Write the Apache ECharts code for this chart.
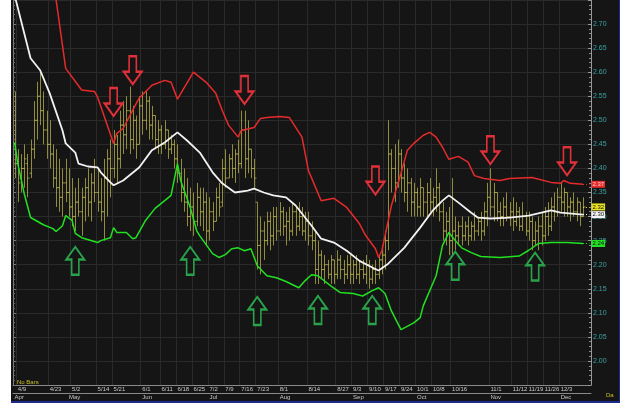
<!DOCTYPE html>
<html>
<head>
<meta charset="utf-8">
<script src="https://cdn.jsdelivr.net/npm/echarts@6/dist/echarts.min.js"></script>
<style>
	html, body { margin: 0; padding: 0; background: #fff; }
	#panel {
		position: absolute; left: 11px; top: 0; width: 608px; height: 401px;
		background: #151515; border-right: 1px solid #1c2a8c; border-bottom: 2px solid #1c2a8c;
	}
	#chart { position: absolute; left: 0; top: 0; width: 629px; height: 403px; }
</style>
</head>
<body>
<div id="panel"></div>
<div id="chart"></div>
<script>
"use strict";

// trading days, weekdays from 4/6
const firstDay = new Date(2018, 3, 6);
const dayCount = 181;

const dateTicks = ["4/9", "4/23", "5/2", "5/14", "5/21", "6/1", "6/11", "6/18", "6/25", "7/2",
	"7/9", "7/16", "7/23", "8/1", "8/14", "8/27", "9/3", "9/10", "9/17", "9/24", "10/1", "10/8",
	"10/16", "11/1", "11/12", "11/19", "11/26", "12/3"];
const monthStarts = ["4/6", "5/1", "6/1", "7/2", "8/1", "9/3", "10/1", "11/1", "12/3"];
const monthNames = ["Apr", "May", "Jun", "Jul", "Aug", "Sep", "Oct", "Nov", "Dec"];

// daily bars: open, high, low, close
const bars = [
	[2.44, 2.56, 2.38, 2.41], [2.41, 2.44, 2.33, 2.37], [2.38, 2.43, 2.35, 2.40], [2.40, 2.45, 2.36, 2.42],
	[2.41, 2.43, 2.34, 2.38], [2.39, 2.46, 2.38, 2.44], [2.44, 2.54, 2.42, 2.50], [2.50, 2.58, 2.46, 2.55],
	[2.55, 2.60, 2.49, 2.52], [2.52, 2.56, 2.45, 2.48], [2.48, 2.52, 2.42, 2.45], [2.45, 2.50, 2.40, 2.43],
	[2.43, 2.45, 2.36, 2.38], [2.38, 2.44, 2.32, 2.36], [2.36, 2.42, 2.31, 2.34], [2.34, 2.40, 2.30, 2.37],
	[2.37, 2.42, 2.33, 2.35], [2.35, 2.40, 2.30, 2.32], [2.32, 2.38, 2.28, 2.30], [2.30, 2.36, 2.27, 2.33],
	[2.33, 2.38, 2.30, 2.31], [2.31, 2.36, 2.26, 2.34], [2.34, 2.38, 2.29, 2.36], [2.36, 2.40, 2.30, 2.33],
	[2.33, 2.39, 2.29, 2.37], [2.37, 2.42, 2.33, 2.35], [2.35, 2.40, 2.31, 2.33], [2.33, 2.38, 2.29, 2.31],
	[2.31, 2.42, 2.25, 2.38], [2.38, 2.44, 2.30, 2.42], [2.42, 2.46, 2.34, 2.40], [2.40, 2.48, 2.38, 2.45],
	[2.45, 2.47, 2.37, 2.42], [2.42, 2.52, 2.40, 2.49], [2.49, 2.54, 2.43, 2.47], [2.47, 2.55, 2.44, 2.52],
	[2.52, 2.57, 2.43, 2.46], [2.46, 2.53, 2.44, 2.50], [2.50, 2.51, 2.42, 2.45], [2.45, 2.55, 2.45, 2.53],
	[2.53, 2.56, 2.47, 2.50], [2.50, 2.56, 2.48, 2.54], [2.54, 2.55, 2.46, 2.49], [2.49, 2.53, 2.46, 2.51],
	[2.51, 2.51, 2.44, 2.46], [2.46, 2.50, 2.43, 2.48], [2.48, 2.49, 2.43, 2.45], [2.45, 2.50, 2.44, 2.48],
	[2.48, 2.48, 2.42, 2.44], [2.44, 2.47, 2.43, 2.45], [2.45, 2.46, 2.40, 2.42], [2.42, 2.45, 2.37, 2.39],
	[2.39, 2.42, 2.33, 2.35], [2.35, 2.40, 2.31, 2.33], [2.33, 2.38, 2.28, 2.30], [2.30, 2.36, 2.27, 2.32],
	[2.32, 2.35, 2.26, 2.29], [2.29, 2.37, 2.28, 2.34], [2.34, 2.36, 2.28, 2.31], [2.31, 2.36, 2.27, 2.33],
	[2.33, 2.35, 2.24, 2.27], [2.27, 2.34, 2.25, 2.31], [2.31, 2.33, 2.27, 2.29], [2.29, 2.36, 2.29, 2.34],
	[2.34, 2.37, 2.30, 2.32], [2.33, 2.42, 2.32, 2.40], [2.40, 2.44, 2.36, 2.38], [2.38, 2.43, 2.38, 2.42],
	[2.42, 2.45, 2.38, 2.40], [2.40, 2.44, 2.37, 2.43], [2.43, 2.46, 2.39, 2.41], [2.41, 2.52, 2.40, 2.48],
	[2.48, 2.52, 2.38, 2.42], [2.42, 2.50, 2.39, 2.44], [2.44, 2.44, 2.38, 2.40], [2.40, 2.42, 2.36, 2.38],
	[2.33, 2.33, 2.19, 2.24], [2.24, 2.30, 2.18, 2.27], [2.27, 2.29, 2.21, 2.25], [2.25, 2.31, 2.24, 2.29],
	[2.29, 2.31, 2.23, 2.26], [2.26, 2.32, 2.24, 2.30], [2.30, 2.32, 2.25, 2.27], [2.27, 2.33, 2.26, 2.31],
	[2.31, 2.32, 2.26, 2.28], [2.28, 2.31, 2.24, 2.29], [2.29, 2.32, 2.25, 2.27], [2.27, 2.33, 2.26, 2.31],
	[2.31, 2.32, 2.26, 2.28], [2.28, 2.33, 2.27, 2.30], [2.30, 2.32, 2.26, 2.27], [2.27, 2.31, 2.25, 2.29],
	[2.29, 2.31, 2.24, 2.26], [2.26, 2.29, 2.23, 2.25], [2.25, 2.27, 2.16, 2.19], [2.19, 2.25, 2.16, 2.22],
	[2.22, 2.23, 2.17, 2.19], [2.19, 2.22, 2.16, 2.20], [2.20, 2.21, 2.17, 2.18], [2.18, 2.22, 2.16, 2.21],
	[2.21, 2.21, 2.16, 2.18], [2.18, 2.23, 2.17, 2.21], [2.21, 2.22, 2.17, 2.19], [2.19, 2.21, 2.16, 2.18],
	[2.18, 2.22, 2.17, 2.20], [2.20, 2.22, 2.16, 2.18], [2.18, 2.21, 2.16, 2.20], [2.20, 2.22, 2.17, 2.18],
	[2.18, 2.21, 2.16, 2.19], [2.19, 2.21, 2.17, 2.18], [2.18, 2.22, 2.16, 2.20], [2.20, 2.21, 2.15, 2.17],
	[2.17, 2.20, 2.16, 2.19], [2.19, 2.21, 2.16, 2.18], [2.18, 2.22, 2.17, 2.21], [2.21, 2.24, 2.18, 2.22],
	[2.22, 2.27, 2.19, 2.25], [2.25, 2.50, 2.23, 2.43], [2.43, 2.44, 2.35, 2.40], [2.40, 2.45, 2.33, 2.37],
	[2.37, 2.46, 2.36, 2.43], [2.43, 2.44, 2.35, 2.38], [2.38, 2.41, 2.33, 2.35], [2.35, 2.40, 2.31, 2.37],
	[2.37, 2.38, 2.30, 2.33], [2.33, 2.37, 2.30, 2.35], [2.35, 2.36, 2.30, 2.32], [2.32, 2.38, 2.30, 2.36],
	[2.36, 2.36, 2.30, 2.33], [2.33, 2.37, 2.30, 2.35], [2.35, 2.38, 2.31, 2.33], [2.33, 2.36, 2.30, 2.34],
	[2.34, 2.40, 2.31, 2.36], [2.36, 2.37, 2.29, 2.31], [2.31, 2.33, 2.25, 2.27], [2.27, 2.31, 2.24, 2.29],
	[2.29, 2.32, 2.22, 2.25], [2.25, 2.38, 2.21, 2.27], [2.27, 2.30, 2.23, 2.26], [2.26, 2.29, 2.24, 2.28],
	[2.28, 2.30, 2.24, 2.26], [2.26, 2.29, 2.25, 2.28], [2.28, 2.30, 2.24, 2.26], [2.26, 2.29, 2.25, 2.28],
	[2.28, 2.31, 2.25, 2.27], [2.27, 2.30, 2.26, 2.29], [2.29, 2.31, 2.25, 2.27], [2.27, 2.33, 2.26, 2.31],
	[2.31, 2.37, 2.28, 2.34], [2.34, 2.40, 2.30, 2.32], [2.32, 2.37, 2.29, 2.35], [2.35, 2.35, 2.29, 2.31],
	[2.31, 2.33, 2.28, 2.30], [2.30, 2.34, 2.28, 2.32], [2.32, 2.35, 2.29, 2.30], [2.30, 2.33, 2.28, 2.31],
	[2.31, 2.34, 2.27, 2.29], [2.29, 2.33, 2.28, 2.31], [2.31, 2.32, 2.27, 2.28], [2.28, 2.33, 2.27, 2.30],
	[2.30, 2.31, 2.26, 2.27], [2.27, 2.31, 2.25, 2.29], [2.29, 2.30, 2.23, 2.25], [2.25, 2.29, 2.24, 2.27],
	[2.27, 2.30, 2.23, 2.28], [2.28, 2.31, 2.24, 2.26], [2.26, 2.32, 2.25, 2.30], [2.30, 2.33, 2.26, 2.28],
	[2.28, 2.34, 2.27, 2.32], [2.32, 2.35, 2.29, 2.31], [2.31, 2.36, 2.30, 2.34], [2.34, 2.37, 2.31, 2.33],
	[2.33, 2.36, 2.30, 2.35], [2.35, 2.35, 2.30, 2.32], [2.32, 2.34, 2.29, 2.33], [2.33, 2.35, 2.30, 2.31],
	[2.31, 2.34, 2.29, 2.33], [2.33, 2.33, 2.28, 2.30], [2.30, 2.34, 2.30, 2.32]
];

// band vertices: [bar number, value]
const upperBand = [
	[11, 2.86], [13, 2.75], [16, 2.608], [21, 2.563], [25, 2.56], [26, 2.548], [31, 2.452], [32, 2.473],
	[34, 2.483], [37, 2.521], [39, 2.546], [43, 2.573], [47, 2.583], [49, 2.579], [51, 2.544], [56, 2.60],
	[60, 2.579], [63, 2.556], [65, 2.521], [67, 2.49], [70, 2.465], [71, 2.479], [75, 2.485], [77, 2.504],
	[79, 2.506], [83, 2.508], [86, 2.506], [90, 2.465], [92, 2.396], [96, 2.333], [100, 2.338], [104, 2.319],
	[108, 2.285], [110, 2.26], [113, 2.233], [114, 2.215], [115, 2.229], [116, 2.26], [118, 2.323],
	[121, 2.39], [123, 2.438], [125, 2.452], [128, 2.469], [130, 2.475], [132, 2.465], [134, 2.444],
	[136, 2.419], [139, 2.425], [142, 2.413], [144, 2.385], [147, 2.379], [152, 2.375], [155, 2.379],
	[162, 2.381], [168, 2.371], [171, 2.369], [172, 2.375], [174, 2.369], [178, 2.367]
];
const middleBand = [
	[0, 2.76], [5, 2.629], [8, 2.604], [11, 2.556], [15, 2.479], [16, 2.452], [19, 2.433], [20, 2.41],
	[23, 2.404], [26, 2.402], [27, 2.392], [30, 2.371], [31, 2.365], [34, 2.375], [39, 2.402], [43, 2.438],
	[47, 2.454], [51, 2.475], [54, 2.458], [58, 2.433], [62, 2.392], [65, 2.369], [69, 2.35], [73, 2.354],
	[75, 2.358], [78, 2.35], [81, 2.344], [85, 2.34], [88, 2.323], [93, 2.281], [96, 2.254], [100, 2.246],
	[104, 2.229], [108, 2.208], [112, 2.194], [114, 2.188], [117, 2.202], [122, 2.235], [127, 2.277],
	[131, 2.313], [134, 2.333], [136, 2.344], [139, 2.329], [143, 2.308], [145, 2.298], [149, 2.296],
	[155, 2.298], [161, 2.302], [168, 2.313], [171, 2.308], [178, 2.304]
];
const lowerBand = [
	[0, 2.454], [1, 2.41], [3, 2.348], [5, 2.298], [9, 2.283], [12, 2.275], [13, 2.269], [15, 2.281],
	[16, 2.302], [18, 2.292], [19, 2.265], [21, 2.256], [26, 2.246], [27, 2.25], [30, 2.256], [31, 2.277],
	[32, 2.267], [35, 2.267], [37, 2.254], [38, 2.256], [41, 2.292], [44, 2.317], [47, 2.333], [49, 2.344],
	[51, 2.41], [52, 2.375], [55, 2.319], [57, 2.271], [58, 2.26], [62, 2.223], [64, 2.215], [66, 2.221],
	[68, 2.233], [70, 2.235], [72, 2.229], [74, 2.233], [76, 2.198], [79, 2.177], [82, 2.173], [85, 2.165],
	[89, 2.152], [91, 2.167], [93, 2.179], [95, 2.177], [99, 2.156], [102, 2.142], [106, 2.14], [109, 2.135],
	[112, 2.146], [114, 2.152], [116, 2.14], [118, 2.104], [121, 2.065], [125, 2.079], [127, 2.09],
	[128, 2.115], [132, 2.177], [134, 2.24], [136, 2.267], [138, 2.25], [140, 2.235], [143, 2.225],
	[146, 2.217], [152, 2.215], [158, 2.218], [161, 2.23], [164, 2.244], [168, 2.246], [173, 2.246],
	[178, 2.244]
];

// annotation arrows: [bar number, value at arrow centre]
const sellArrows = [[31, 2.538], [37, 2.604], [72, 2.563], [113, 2.375], [149, 2.438], [173, 2.415]];
const buyArrows = [[19, 2.208], [55, 2.208], [76, 2.104], [95, 2.106], [112, 2.106], [138, 2.198], [163, 2.196]];

const dates = [];
for (const d = new Date(firstDay); dates.length < dayCount; d.setDate(d.getDate() + 1)) {
	if (d.getDay() !== 0 && d.getDay() !== 6)
		dates.push((d.getMonth() + 1) + "/" + d.getDate());
}

const font = "Arial, 'Liberation Sans', sans-serif";
const barColor = "rgba(196,188,76,0.72)";
const gridColor = "#2a2a2a";
const arrowDown = "path://M30,0L70,0L70,55L100,55L50,100L0,55L30,55Z";
const arrowUp = "path://M30,100L70,100L70,45L100,45L50,0L0,45L30,45Z";

const renderBar = (params, api) => {
	const i = api.value(0);
	const x = Math.round(api.coord([i, 0])[0]) + 0.5;
	const y = (dim) => api.coord([i, api.value(dim)])[1];
	const style = { stroke: barColor, lineWidth: 1 };
	return {
		type: "group",
		children: [
			{ type: "line", shape: { x1: x, y1: y(2), x2: x, y2: y(3) }, style },
			{ type: "line", shape: { x1: x - 2, y1: y(1), x2: x, y2: y(1) }, style },
			{ type: "line", shape: { x1: x, y1: y(4), x2: x + 2, y2: y(4) }, style }
		]
	};
}

// small price tag on the right axis for the last value
const lastTag = (idx, val, color, textColor) => ({
	symbol: ["none", "none"],
	silent: true,
	lineStyle: { color, type: [1, 2], width: 1 },
	label: {
		position: "end", distance: 2, formatter: val.toFixed(2),
		backgroundColor: color, color: textColor, fontSize: 6, fontFamily: font, padding: [1, 1, 0, 1]
	},
	data: [[{ coord: [dates[idx], val] }, { coord: [dates[dates.length - 1], val] }]]
});

const band = (name, data, color, width) => {
	const last = data[data.length - 1];
	return {
		name, type: "line", data, symbol: "none", z: 3,
		lineStyle: { color, width },
		markLine: lastTag(last[0], last[1], color, color === "#e52b2b" ? "#ffd0d0" : "#111")
	};
}

const arrows = (data, path, color) => ({
	type: "scatter", data, symbol: path, symbolSize: [18, 28], z: 5, silent: true,
	itemStyle: { color: "#151515", borderColor: color, borderWidth: 2, opacity: 1 }
});

const lastBar = bars.length - 1;

const chart = echarts.init(document.getElementById("chart"));
chart.setOption({
	animation: false,
	textStyle: { fontFamily: font },
	grid: { left: 13, right: 38, top: 0, bottom: 18 },
	xAxis: [{
		type: "category", data: dates,
		axisLine: { lineStyle: { color: "#8a8a8a" } },
		axisTick: { length: 8, interval: (i, v) => dateTicks.includes(v), lineStyle: { color: "#8a8a8a" } },
		axisLabel: {
			interval: (i, v) => dateTicks.includes(v), fontSize: 6, color: "#c8c8c8",
			align: "left", margin: 1
		},
		splitLine: { show: true, interval: (i, v) => dateTicks.includes(v), lineStyle: { color: gridColor } }
	}, {
		type: "category", data: dates, position: "bottom", offset: 8,
		axisLine: { lineStyle: { color: "#8a8a8a" } },
		axisTick: { length: 8, interval: (i, v) => monthStarts.includes(v), lineStyle: { color: "#8a8a8a" } },
		axisLabel: {
			interval: (i, v) => monthStarts.includes(v), fontSize: 6, color: "#c8c8c8",
			align: "left", margin: 1, formatter: (v) => monthNames[monthStarts.indexOf(v)]
		}
	}],
	yAxis: [{
		type: "value", position: "right", min: 1.95, max: 2.75, interval: 0.05,
		axisLine: { show: true, lineStyle: { color: "#9a9a9a" } },
		axisTick: { show: true, inside: true, length: 3, lineStyle: { color: "#9a9a9a" } },
		minorTick: { show: true, splitNumber: 5, length: 2, lineStyle: { color: "#8a8a8a" } },
		axisLabel: {
			fontSize: 7, color: "#3aa3a3", margin: 2, showMinLabel: false, showMaxLabel: false,
			formatter: (v) => v.toFixed(2)
		},
		splitLine: { lineStyle: { color: gridColor } }
	}, {
		type: "value", position: "left", min: 1.95, max: 2.75, interval: 0.05,
		axisLine: { show: true, lineStyle: { color: "#7a7a7a" } },
		axisTick: { show: true, inside: true, length: 3, lineStyle: { color: "#7a7a7a" } },
		minorTick: { show: true, splitNumber: 5, length: 2, lineStyle: { color: "#6a6a6a" } },
		axisLabel: { show: false },
		splitLine: { show: false }
	}],
	series: [
		{
			type: "custom", renderItem: renderBar, z: 2,
			data: bars.map((b, i) => [i].concat(b)),
			encode: { x: 0, y: [1, 2, 3, 4] },
			markLine: lastTag(lastBar, bars[lastBar][3], "#e8e020", "#111")
		},
		band("upper", upperBand, "#e52b2b", 1.5),
		band("middle", middleBand, "#f2f2f2", 1.8),
		band("lower", lowerBand, "#22e022", 1.5),
		arrows(sellArrows, arrowDown, "#e2303a"),
		arrows(buyArrows, arrowUp, "#2aa24c")
	],
	graphic: [
		{ type: "text", left: 17, top: 379, style: { text: "No Bars", fill: "#c8c020", font: "6px " + font } },
		{ type: "text", left: 606, top: 392, style: { text: "Da", fill: "#c8c020", font: "6px " + font } }
	]
});
</script>
</body>
</html>
